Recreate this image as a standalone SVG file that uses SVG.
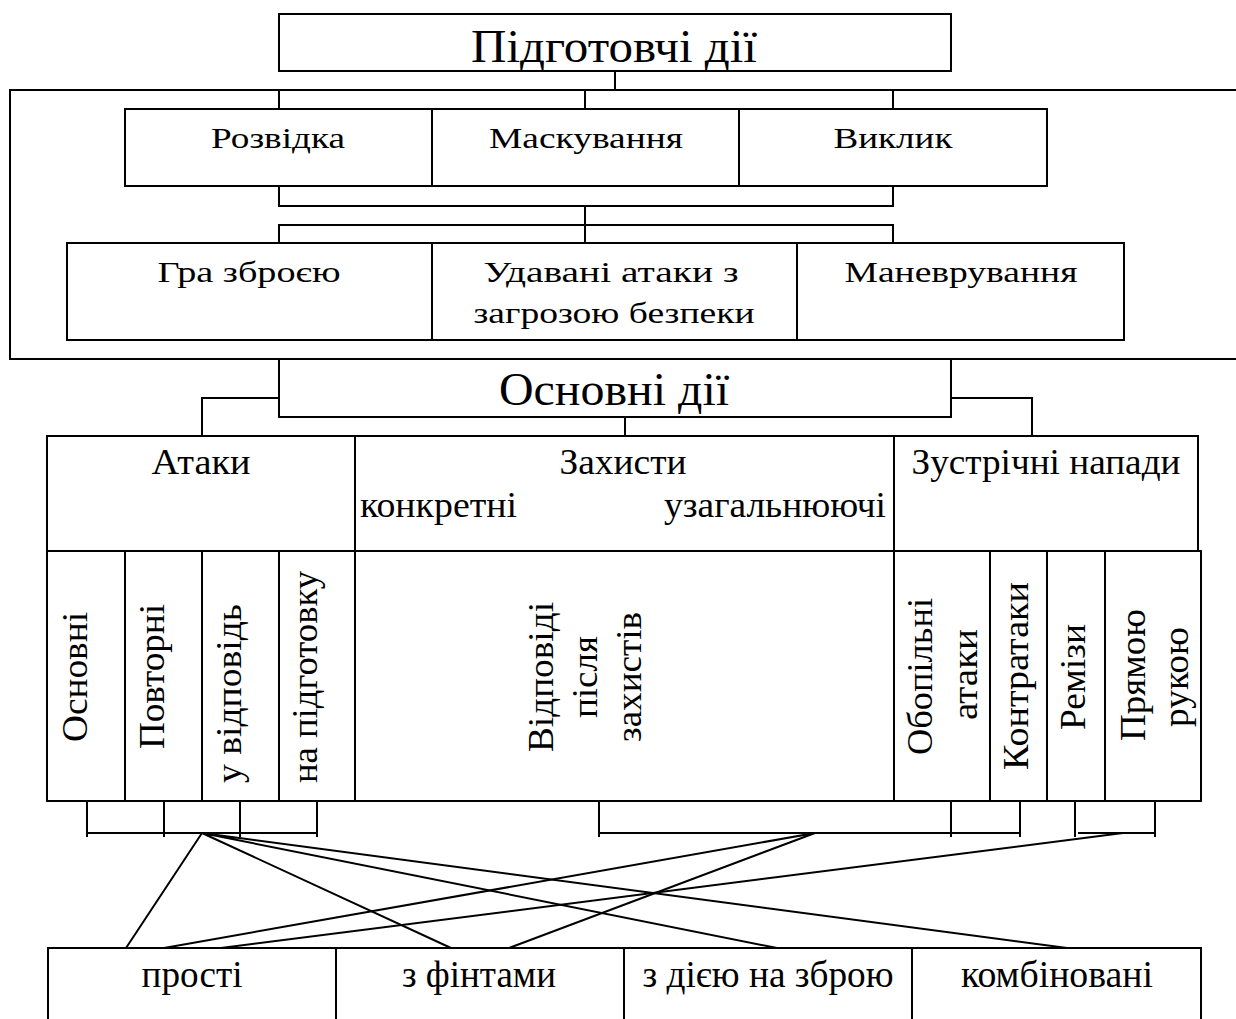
<svg xmlns="http://www.w3.org/2000/svg" width="1236" height="1019" viewBox="0 0 1236 1019">
<style>
rect, .c { fill: none; stroke: #000; stroke-width: 2; }
rect { fill: #fff; }
text { font-family: "Liberation Serif", "Times New Roman", serif; fill: #000; }
.t1 { font-size: 36px; text-anchor: middle; }
.t2 { font-size: 36px; text-anchor: middle; }
.tv { font-size: 35px; }
.tb { font-size: 37px; text-anchor: middle; }
.big { font-size: 47px; text-anchor: middle; }
</style>
<rect x="-5" y="-5" width="1250" height="1030" style="stroke:none"/>
<g id="connectors">
  <path class="c" d="M1237,90 H10 V359 H1237"/>
  <path class="c" d="M615,71 V90 M279,90 V109 M585,90 V109 M893,90 V109"/>
  <path class="c" d="M279,186 V206 H893 V186 M585,206 V243 M279,243 V225 H893 V243"/>
  <path class="c" d="M279,398 H202 V436 M951,398 H1032 V436 M625,417 V436"/>
  <path class="c" d="M87,801 V837 M164,801 V837 M240,801 V837 M317,801 V837 M87,833 H317"/>
  <path class="c" d="M599,801 V837 M951,801 V837 M1020,801 V837 M599,833 H1020"/>
  <path class="c" d="M1075,801 V837 M1155,801 V837 M1078,833 H1155"/>
  <path class="c" d="M202,833 L126,948 M202,833 L451,948 M202,833 L777,948 M202,833 L1067,948"/>
  <path class="c" d="M815,833 L164,948 M815,833 L509,948"/>
  <path class="c" d="M1123,833 L221,948"/>
</g>
<g id="n-pidgotovchi">
  <rect x="279" y="14" width="672" height="57"/>
  <text class="big" x="614" y="62" textLength="286" lengthAdjust="spacingAndGlyphs">Підготовчі дії</text>
</g>
<g id="n-rozvidka">
  <rect x="125" y="109" width="307" height="77"/>
  <text class="t1" transform="translate(278,148) scale(1,0.83)" textLength="134" lengthAdjust="spacingAndGlyphs">Розвідка</text>
</g>
<g id="n-maskuvannia">
  <rect x="432" y="109" width="307" height="77"/>
  <text class="t1" transform="translate(586,148) scale(1,0.83)" textLength="194" lengthAdjust="spacingAndGlyphs">Маскування</text>
</g>
<g id="n-vyklyk">
  <rect x="739" y="109" width="308" height="77"/>
  <text class="t1" transform="translate(893,148) scale(1,0.83)" textLength="119" lengthAdjust="spacingAndGlyphs">Виклик</text>
</g>
<g id="n-gra">
  <rect x="67" y="243" width="365" height="97"/>
  <text class="t1" transform="translate(249,282) scale(1,0.83)" textLength="183" lengthAdjust="spacingAndGlyphs">Гра зброєю</text>
</g>
<g id="n-udavani">
  <rect x="432" y="243" width="365" height="97"/>
  <text class="t1" transform="translate(611,282) scale(1,0.83)" textLength="255" lengthAdjust="spacingAndGlyphs">Удавані атаки з</text>
  <text class="t1" transform="translate(614,323) scale(1,0.83)" textLength="281" lengthAdjust="spacingAndGlyphs">загрозою безпеки</text>
</g>
<g id="n-manevruvannia">
  <rect x="797" y="243" width="327" height="97"/>
  <text class="t1" transform="translate(961,282) scale(1,0.83)" textLength="233" lengthAdjust="spacingAndGlyphs">Маневрування</text>
</g>
<g id="n-osnovni-dii">
  <rect x="279" y="359" width="672" height="58"/>
  <text class="big" x="614" y="405" textLength="230" lengthAdjust="spacingAndGlyphs">Основні дії</text>
</g>
<g id="n-ataky">
  <rect x="47" y="436" width="308" height="115"/>
  <text class="t2" x="201" y="474" textLength="99" lengthAdjust="spacingAndGlyphs">Атаки</text>
</g>
<g id="n-zakhysty">
  <rect x="355" y="436" width="539" height="115"/>
  <text class="t2" x="623" y="474" textLength="127" lengthAdjust="spacingAndGlyphs">Захисти</text>
  <text class="t2" x="360" y="517" style="text-anchor:start" textLength="157" lengthAdjust="spacingAndGlyphs">конкретні</text>
  <text class="t2" x="886" y="517" style="text-anchor:end" textLength="222" lengthAdjust="spacingAndGlyphs">узагальнюючі</text>
</g>
<g id="n-zustrichni">
  <rect x="894" y="436" width="304" height="115"/>
  <text class="t2" x="1046" y="474" textLength="269" lengthAdjust="spacingAndGlyphs">Зустрічні напади</text>
</g>
<g id="n-osnovni">
  <rect x="47" y="551" width="78" height="250"/>
  <text class="tv" transform="translate(87,742) rotate(-90)" textLength="130" lengthAdjust="spacingAndGlyphs">Основні</text>
</g>
<g id="n-povtorni">
  <rect x="125" y="551" width="77" height="250"/>
  <text class="tv" transform="translate(164,749) rotate(-90)" textLength="145" lengthAdjust="spacingAndGlyphs">Повторні</text>
</g>
<g id="n-u-vidpovid">
  <rect x="202" y="551" width="77" height="250"/>
  <text class="tv" transform="translate(241,783) rotate(-90)" textLength="179" lengthAdjust="spacingAndGlyphs">у відповідь</text>
</g>
<g id="n-na-pidgotovku">
  <rect x="279" y="551" width="76" height="250"/>
  <text class="tv" transform="translate(317,783) rotate(-90)" textLength="212" lengthAdjust="spacingAndGlyphs">на підготовку</text>
</g>
<g id="n-vidpovidi">
  <rect x="355" y="551" width="539" height="250"/>
  <text class="tv" transform="translate(553,752) rotate(-90)" textLength="150" lengthAdjust="spacingAndGlyphs">Відповіді</text>
  <text class="tv" transform="translate(597,718) rotate(-90)" textLength="82" lengthAdjust="spacingAndGlyphs">після</text>
  <text class="tv" transform="translate(641,742) rotate(-90)" textLength="130" lengthAdjust="spacingAndGlyphs">захистів</text>
</g>
<g id="n-obopilni">
  <rect x="894" y="551" width="96" height="250"/>
  <text class="tv" transform="translate(932,755) rotate(-90)" textLength="157" lengthAdjust="spacingAndGlyphs">Обопільні</text>
  <text class="tv" transform="translate(977,720) rotate(-90)" textLength="91" lengthAdjust="spacingAndGlyphs">атаки</text>
</g>
<g id="n-kontrataky">
  <rect x="990" y="551" width="57" height="250"/>
  <text class="tv" transform="translate(1028,770) rotate(-90)" textLength="188" lengthAdjust="spacingAndGlyphs">Контратаки</text>
</g>
<g id="n-remizy">
  <rect x="1047" y="551" width="58" height="250"/>
  <text class="tv" transform="translate(1085,730) rotate(-90)" textLength="106" lengthAdjust="spacingAndGlyphs">Ремізи</text>
</g>
<g id="n-priamoiu">
  <rect x="1105" y="551" width="96" height="250"/>
  <text class="tv" transform="translate(1145,741) rotate(-90)" textLength="132" lengthAdjust="spacingAndGlyphs">Прямою</text>
  <text class="tv" transform="translate(1188,727) rotate(-90)" textLength="100" lengthAdjust="spacingAndGlyphs">рукою</text>
</g>
<g id="n-prosti">
  <rect x="48" y="948" width="288" height="80"/>
  <text class="tb" x="192" y="987" textLength="101" lengthAdjust="spacingAndGlyphs">прості</text>
</g>
<g id="n-z-fintamy">
  <rect x="336" y="948" width="288" height="80"/>
  <text class="tb" x="479" y="987" textLength="154" lengthAdjust="spacingAndGlyphs">з фінтами</text>
</g>
<g id="n-z-diieiu">
  <rect x="624" y="948" width="288" height="80"/>
  <text class="tb" x="768" y="987" textLength="251" lengthAdjust="spacingAndGlyphs">з дією на зброю</text>
</g>
<g id="n-kombinovani">
  <rect x="912" y="948" width="289" height="80"/>
  <text class="tb" x="1057" y="987" textLength="192" lengthAdjust="spacingAndGlyphs">комбіновані</text>
</g>
</svg>
